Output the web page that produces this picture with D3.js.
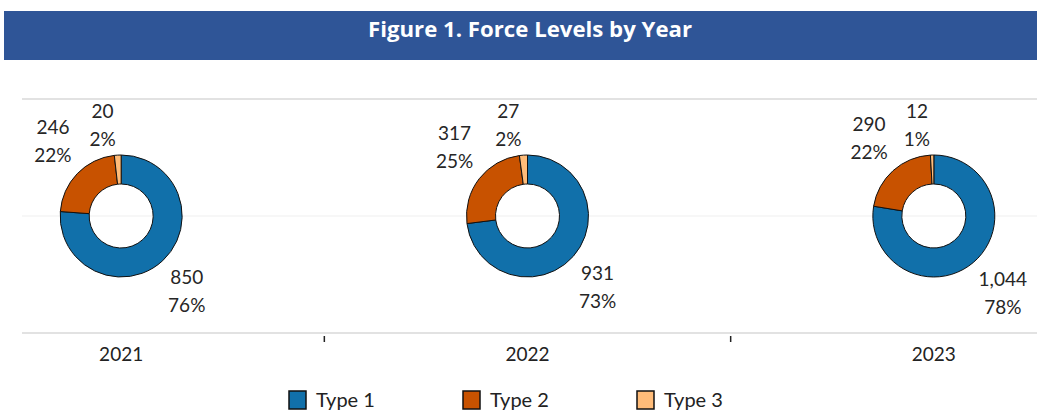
<!DOCTYPE html>
<html lang="en">
<head>
<meta charset="UTF-8">
<title>Figure 1. Force Levels by Year</title>
<script src="https://d3js.org/d3.v7.min.js"></script>
<style>
    body { margin: 0; background: #fff; }
    text { font-family: Lato, "Open Sans", sans-serif; }
</style>
</head>
<body>
<div id="chart"></div>
<script>
    const width = 1037;
    const height = 413;

    // data
    const years = ["2021", "2022", "2023"];
    const types = ["Type 1", "Type 2", "Type 3"];
    const type1 = [850, 931, 1044];
    const type2 = [246, 317, 290];
    const type3 = [20, 27, 12];
    const colors = ["#1170aa", "#c85200", "#ffbc79"];

    const svg = d3.select("#chart").append("svg")
        .attr("width", width)
        .attr("height", height);

    // title banner
    svg.append("rect")
        .attr("x", 4).attr("y", 11)
        .attr("width", width - 4).attr("height", 49)
        .attr("fill", "#2f5597");
    svg.append("text")
        .attr("x", 530).attr("y", 37)
        .attr("text-anchor", "middle")
        .attr("fill", "#fff")
        .attr("font-weight", "bold")
        .attr("font-size", 21)
        .attr("textLength", 324)
        .attr("lengthAdjust", "spacingAndGlyphs")
        .style("font-family", "'Open Sans', sans-serif")
        .text("Figure 1. Force Levels by Year");

    // scales
    const x = d3.scaleBand().domain(years).range([-82, 1137]);
    const y = d3.scaleLinear().domain([0, 2]).range([333, 99]);
    const color = d3.scaleOrdinal().domain(types).range(colors);

    // gridlines
    svg.append("g").selectAll("line")
        .data([0, 1, 2])
        .join("line")
        .attr("x1", 22).attr("x2", width)
        .attr("y1", d => y(d)).attr("y2", d => y(d))
        .attr("stroke", d => d === 1 ? "#efefef" : "#d9d9d9")
        .attr("stroke-width", d => d === 1 ? 1 : 1.5);

    // category boundary ticks
    svg.append("g").selectAll("line")
        .data(years.slice(1))
        .join("line")
        .attr("x1", d => x(d)).attr("x2", d => x(d))
        .attr("y1", 336).attr("y2", 342)
        .attr("stroke", "#222").attr("stroke-width", 1.5);

    // year labels
    svg.append("g").selectAll("text")
        .data(years)
        .join("text")
        .attr("x", d => x(d) + x.bandwidth() / 2)
        .attr("y", 361)
        .attr("text-anchor", "middle")
        .attr("font-size", 19)
        .attr("fill", "#222")
        .text(d => d);

    const outerR = 61;
    const innerR = 32;
    const pie = d3.pie().sort(null).value(d => d.value);
    const arc = d3.arc().innerRadius(innerR).outerRadius(outerR);
    const fmt = d3.format(",");

    years.forEach((yr, i) => {
        const vals = [type1[i], type2[i], type3[i]];
        const total = d3.sum(vals);
        const data = types.map((t, j) => ({ type: t, value: vals[j] }));
        const cx = x(yr) + x.bandwidth() / 2;
        const cy = y(1);
        const g = svg.append("g").attr("transform", `translate(${cx},${cy})`);

        const arcs = pie(data);
        g.selectAll("path")
            .data(arcs)
            .join("path")
            .attr("d", arc)
            .attr("fill", d => color(d.data.type))
            .attr("stroke", "#111")
            .attr("stroke-width", 1);

        // outside-end labels anchored at the corner facing the slice
        arcs.forEach(a => {
            const mid = (a.startAngle + a.endAngle) / 2;
            const s = Math.sin(mid), c = -Math.cos(mid);
            const small = (a.endAngle - a.startAngle) < 0.2;
            const r = small ? 62 : 66;
            const px = s * r, py = c * r;
            const lab = g.append("text")
                .attr("font-size", 19)
                .attr("fill", "#262626")
                .attr("text-anchor", "middle");
            const l1 = lab.append("tspan").text(fmt(a.data.value));
            const l2 = lab.append("tspan").text(Math.round(a.data.value / total * 100) + "%");
            const w = Math.max(l1.node().getComputedTextLength(), l2.node().getComputedTextLength()) + 4;
            const h = 56;
            const bx = s < 0 ? px - w : px;
            const by = c < 0 ? py - h : py;
            const tx = bx + w / 2;
            l1.attr("x", tx).attr("y", by + 20);
            l2.attr("x", tx).attr("y", by + 48);
        });
    });

    // legend
    const legend = svg.append("g").selectAll("g")
        .data(types)
        .join("g")
        .attr("transform", (d, i) => `translate(${289 + i * 174},391)`);
    legend.append("rect")
        .attr("width", 17).attr("height", 18)
        .attr("fill", d => color(d))
        .attr("stroke", "#111").attr("stroke-width", 1.5);
    legend.append("text")
        .attr("x", 27).attr("y", 16)
        .attr("font-size", 20)
        .attr("fill", "#222")
        .text(d => d);
</script>
</body>
</html>
